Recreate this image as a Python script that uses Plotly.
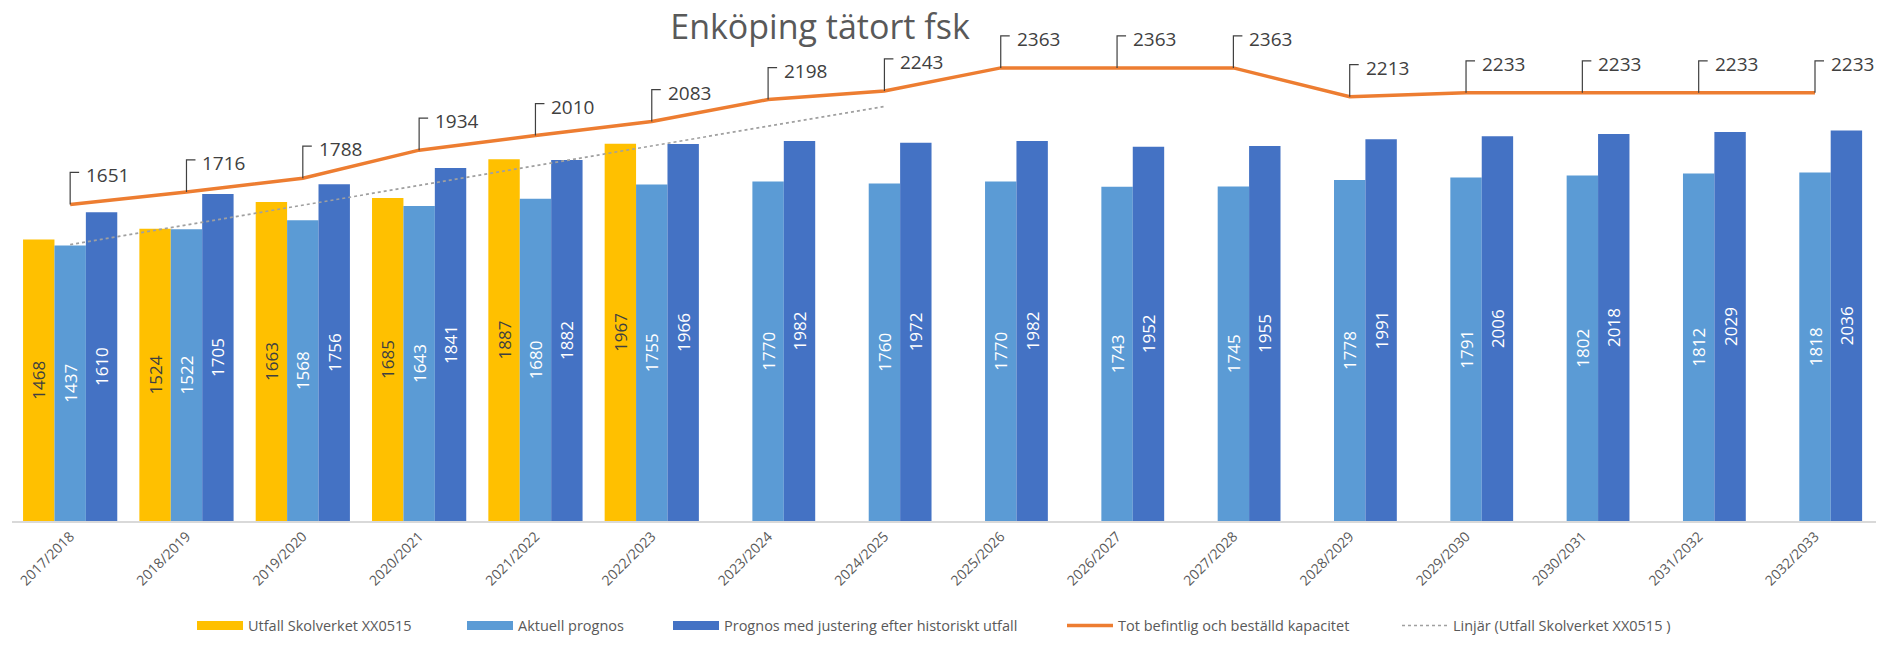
import plotly.graph_objects as go

# ---------------- data ----------------
categories = ["2017/2018", "2018/2019", "2019/2020", "2020/2021", "2021/2022", "2022/2023",
              "2023/2024", "2024/2025", "2025/2026", "2026/2027", "2027/2028", "2028/2029",
              "2029/2030", "2030/2031", "2031/2032", "2032/2033"]
utfall = [1468, 1524, 1663, 1685, 1887, 1967, None, None, None, None, None, None, None, None, None, None]
aktuell = [1437, 1522, 1568, 1643, 1680, 1755, 1770, 1760, 1770, 1743, 1745, 1778, 1791, 1802, 1812, 1818]
justerad = [1610, 1705, 1756, 1841, 1882, 1966, 1982, 1972, 1982, 1952, 1955, 1991, 2006, 2018, 2029, 2036]
kapacitet = [1651, 1716, 1788, 1934, 2010, 2083, 2198, 2243, 2363, 2363, 2363, 2213, 2233, 2233, 2233, 2233]
trend_categories = ["2017/2018", "2024/2025"]
trend_values = [1441, 2162]

names = ["Utfall Skolverket XX0515", "Aktuell prognos",
         "Prognos med justering efter historiskt utfall",
         "Tot befintlig och beställd kapacitet",
         "Linjär (Utfall Skolverket XX0515 )"]

# ---------------- styling ----------------
FONT = "Open Sans"
C_YELLOW = "#FFC000"
C_LBLUE = "#5B9BD5"
C_DBLUE = "#4472C4"
C_ORANGE = "#ED7D31"
C_TREND = "#A0A0A0"
GRAY = "#595959"

W, H = 1884, 649
ML, MR, MT, MB = 12, 8, 8, 126
PLOT_W = W - ML - MR
PLOT_H = H - MT - MB
PX_PER_UNIT = 0.1925
YMAX = PLOT_H / PX_PER_UNIT

fig = go.Figure()

bar_series = [(utfall, C_YELLOW, "#404040", names[0], "legend"),
              (aktuell, C_LBLUE, "#FFFFFF", names[1], "legend2"),
              (justerad, C_DBLUE, "#FFFFFF", names[2], "legend3")]

for vals, col, tcol, nm, lg in bar_series:
    fig.add_trace(go.Bar(
        x=categories, y=vals, name=nm, marker=dict(color=col, line=dict(width=0)),
        texttemplate="%{y}", textposition="inside", insidetextanchor="middle",
        textangle=-90, textfont=dict(family=FONT, size=17, color=tcol),
        showlegend=False, legendgroup=nm, cliponaxis=False,
    ))

fig.add_trace(go.Scatter(
    x=categories, y=kapacitet, mode="lines", name=names[3],
    line=dict(color=C_ORANGE, width=3.5), legend="legend4",
))
fig.add_trace(go.Scatter(
    x=trend_categories, y=trend_values, mode="lines", name=names[4],
    line=dict(color=C_TREND, width=1.7, dash="dot"), legend="legend5",
))

# legend swatches for the bar series (wide short rectangles like the original)
for vals, col, tcol, nm, lg in bar_series:
    fig.add_trace(go.Scatter(
        x=[categories[0]], y=[None], mode="lines", name=nm,
        line=dict(color=col, width=9), legend=lg, legendgroup=nm,
    ))

# data labels with bracket leaders for the capacity line
for i, v in enumerate(kapacitet):
    fig.add_shape(type="path", xref="x", yref="y", xsizemode="pixel", ysizemode="pixel",
                  xanchor=i, yanchor=v, path="M0,0 L0,32 L9,32",
                  line=dict(color="#404040", width=1.2), layer="above")
    fig.add_annotation(x=i, y=v, xref="x", yref="y", text=str(v), showarrow=False,
                       xanchor="left", yanchor="middle", xshift=14, yshift=29,
                       font=dict(family=FONT, size=19, color="#404040"))

# legends placed individually
legend_sym_x = [197, 467, 673, 1067, 1402]
legend_keys = ["legend", "legend2", "legend3", "legend4", "legend5"]
legend_y = -(628 - (MT + PLOT_H)) / PLOT_H
legend_layout = {}
for key, sx in zip(legend_keys, legend_sym_x):
    legend_layout[key] = dict(
        x=(sx - 5 - ML) / PLOT_W, xanchor="left", y=legend_y, yanchor="middle",
        orientation="h", itemwidth=46, bgcolor="rgba(0,0,0,0)",
        font=dict(family=FONT, size=14.5, color=GRAY), itemclick=False, itemdoubleclick=False,
    )

fig.update_layout(
    width=W, height=H,
    margin=dict(l=ML, r=MR, t=MT, b=MB, pad=0),
    paper_bgcolor="white", plot_bgcolor="white",
    barmode="group", bargap=0.19, bargroupgap=0,
    title=dict(text="Enköping tätort fsk", x=820 / W, xref="container", xanchor="center",
               y=1 - 27 / H, yref="container", yanchor="middle",
               font=dict(family=FONT, size=34, color=GRAY)),
    xaxis=dict(type="category", showline=True, linecolor="#D9D9D9", linewidth=1.5,
               ticks="", tickangle=-45, showgrid=False, zeroline=False,
               tickfont=dict(family=FONT, size=14, color=GRAY)),
    yaxis=dict(visible=False, range=[0, YMAX], showgrid=False, zeroline=False),
    hovermode=False,
    **legend_layout,
)

fig.write_html("out.html", config={"displayModeBar": False},
               post_script="document.body.style.margin='0px';document.body.style.overflow='hidden';")
